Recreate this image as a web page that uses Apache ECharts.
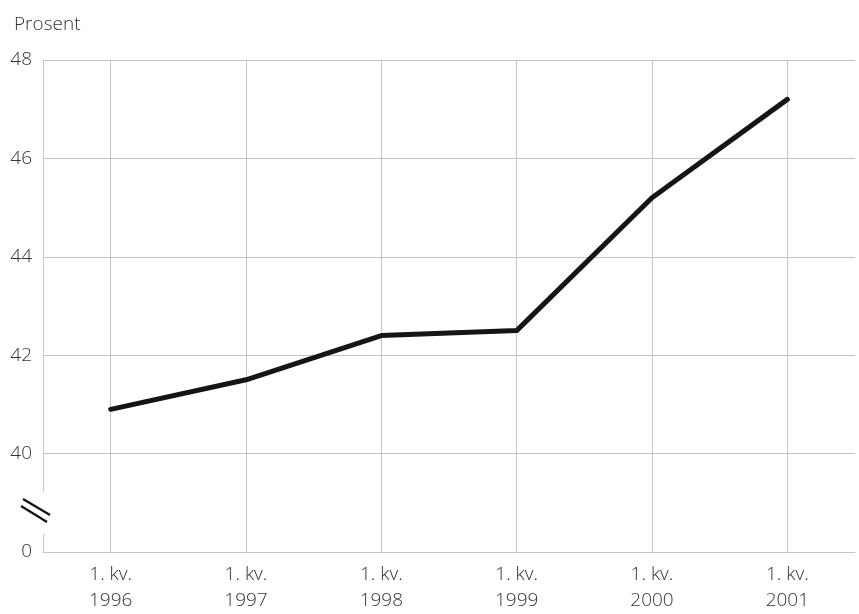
<!DOCTYPE html>
<html>
<head>
<meta charset="utf-8">
<script src="https://cdn.jsdelivr.net/npm/echarts@6/dist/echarts.min.js"></script>
<style>
html,body{margin:0;padding:0;background:#fff;}
#chart{width:859px;height:614px;}
</style>
</head>
<body>
<div id="chart"></div>
<script>
// Data
var categories = ['1. kv.\n1996', '1. kv.\n1997', '1. kv.\n1998', '1. kv.\n1999', '1. kv.\n2000', '1. kv.\n2001'];
var values = [40.9, 41.5, 42.4, 42.5, 45.2, 47.2];
// Axis: broken scale; the lowest tick (38 on the scale) is shown as "0"
var yTickLabels = { 38: '0', 40: '40', 42: '42', 44: '44', 46: '46', 48: '48' };

var FONT = '"Open Sans", "Noto Sans", sans-serif';
var GRID = '#c4c4c4';

var chart = echarts.init(document.getElementById('chart'), null, { renderer: 'canvas' });
chart.setOption({
  backgroundColor: '#ffffff',
  animation: false,
  title: {
    text: 'Prosent',
    left: 9,
    top: 10,
    textStyle: { fontFamily: FONT, fontSize: 19, fontWeight: 300, color: '#333' }
  },
  grid: { left: 43, right: 4, top: 60, bottom: 56, containLabel: false },
  xAxis: {
    type: 'category',
    data: categories,
    boundaryGap: true,
    axisLine: { show: true, lineStyle: { color: GRID, width: 1 } },
    axisTick: { show: false },
    splitLine: { show: false },
    axisLabel: {
      margin: 10,
      fontFamily: FONT, fontSize: 19, fontWeight: 300, color: '#333',
      lineHeight: 26
    }
  },
  yAxis: {
    type: 'value',
    min: 38, max: 48, interval: 2,
    axisLine: { show: true, lineStyle: { color: GRID, width: 1 } },
    axisTick: { show: false },
    splitLine: { show: true, lineStyle: { color: GRID, width: 1 } },
    axisLabel: {
      margin: 11,
      fontFamily: FONT, fontSize: 19, fontWeight: 300, color: '#333',
      formatter: function (v) { return yTickLabels[v] !== undefined ? yTickLabels[v] : ''; }
    }
  },
  series: [
    {
      type: 'line',
      data: [],
      z: 1,
      silent: true,
      markLine: {
        silent: true,
        symbol: ['none', 'none'],
        label: { show: false },
        lineStyle: { color: GRID, width: 1, type: 'solid' },
        data: categories.map(function (c) { return { xAxis: c }; })
      }
    },
    {
      type: 'line',
      data: values,
      z: 5,
      symbol: 'none',
      lineStyle: { color: '#151515', width: 5, cap: 'round', join: 'round' }
    }
  ],
  graphic: [
    { type: 'rect', z: 100, shape: { x: 38, y: 492, width: 10, height: 42 }, style: { fill: '#ffffff' } },
    { type: 'line', z: 101, shape: { x1: 23, y1: 499, x2: 50, y2: 515 }, style: { stroke: '#111', lineWidth: 2.2 } },
    { type: 'line', z: 101, shape: { x1: 21, y1: 506, x2: 47, y2: 522 }, style: { stroke: '#111', lineWidth: 2.2 } }
  ]
});
</script>
</body>
</html>
